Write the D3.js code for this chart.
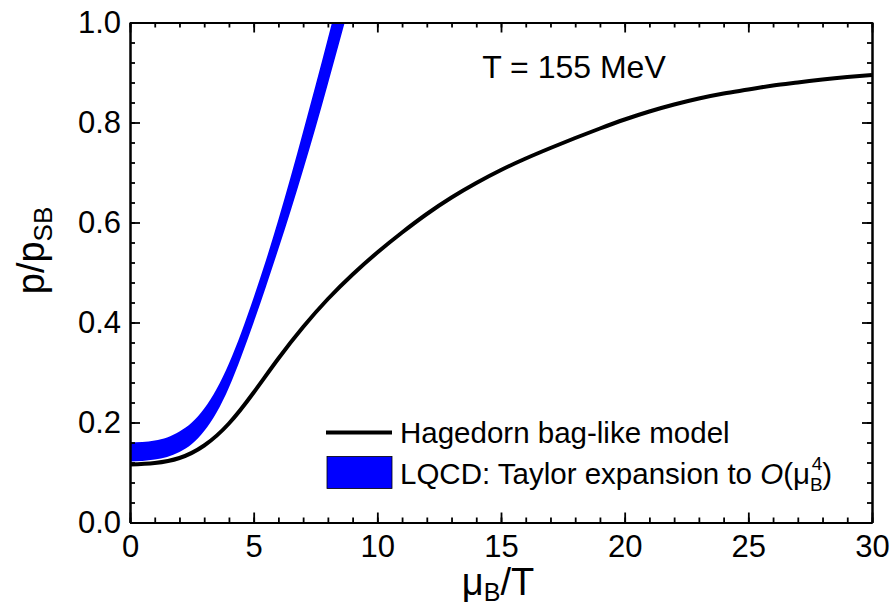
<!DOCTYPE html>
<html>
<head>
<meta charset="utf-8">
<script src="https://cdn.jsdelivr.net/npm/d3@7"></script>
<style>
  body { margin: 0; background: #fff; }
  svg text { font-family: "Liberation Sans", Arial, sans-serif; fill: #000; }
</style>
</head>
<body>
<svg id="chart" width="891" height="606"></svg>
<script>
// Hagedorn bag-like model curve (mu_B/T -> p/p_SB)
var modelMu = [0, 1, 2, 3, 4, 5, 6, 7, 8, 9, 10, 11, 12, 13, 14, 15, 16, 17, 18, 19, 20, 21, 22, 23, 24, 25, 26, 27, 28, 29, 30];
var modelP = [0.116, 0.119, 0.129, 0.154, 0.198, 0.260, 0.328, 0.391, 0.447, 0.496, 0.540, 0.580, 0.617, 0.650, 0.679, 0.705, 0.728, 0.749, 0.769, 0.788, 0.806, 0.822, 0.836, 0.848, 0.858, 0.866, 0.874, 0.880, 0.886, 0.891, 0.895];

// LQCD Taylor expansion band
var bandMu = [0, 0.5, 1, 1.5, 2, 2.5, 3, 3.5, 4, 4.5, 5, 5.5, 6, 6.5, 7, 7.5, 8, 8.5, 9];
var bandLow = [0.122, 0.123, 0.126, 0.131, 0.141, 0.157, 0.183, 0.220, 0.270, 0.332, 0.400, 0.472, 0.547, 0.624, 0.705, 0.789, 0.877, 0.967, 1.058];
var bandHigh = [0.160, 0.161, 0.164, 0.170, 0.182, 0.200, 0.228, 0.267, 0.318, 0.380, 0.450, 0.525, 0.606, 0.692, 0.782, 0.874, 0.968, 1.064, 1.160];

var xTicks = [0, 5, 10, 15, 20, 25, 30];
var yTicks = [0.0, 0.2, 0.4, 0.6, 0.8, 1.0];

var margin = {top: 22.5, right: 19, bottom: 83.5, left: 130},
    width = 891 - margin.left - margin.right,
    height = 606 - margin.top - margin.bottom;

var svg = d3.select("#chart")
  .append("g")
    .attr("transform", "translate(" + margin.left + "," + margin.top + ")");

var x = d3.scaleLinear().domain([0, 30]).range([0, width]);
var y = d3.scaleLinear().domain([0, 1]).range([height, 0]);

svg.append("clipPath").attr("id", "plotClip")
  .append("rect").attr("width", width).attr("height", height);

var plot = svg.append("g").attr("clip-path", "url(#plotClip)");

// band
var bandData = bandMu.map(function(m, i) { return {mu: m, lo: bandLow[i], hi: bandHigh[i]}; });
plot.append("path")
  .datum(bandData)
  .attr("fill", "#0000ff")
  .attr("d", d3.area()
    .x(function(d) { return x(d.mu); })
    .y0(function(d) { return y(d.lo); })
    .y1(function(d) { return y(d.hi); })
    .curve(d3.curveNatural));

// model line
var modelData = modelMu.map(function(m, i) { return {mu: m, p: modelP[i]}; });
plot.append("path")
  .datum(modelData)
  .attr("fill", "none")
  .attr("stroke", "#000")
  .attr("stroke-width", 4)
  .attr("d", d3.line()
    .x(function(d) { return x(d.mu); })
    .y(function(d) { return y(d.p); })
    .curve(d3.curveNatural));

//axes, ticks pointing inward
function styleAxis(g) {
  g.select(".domain").attr("stroke-width", 2);
  g.selectAll(".tick line").attr("stroke-width", 1.8);
  g.selectAll("text").style("font-family", "'Liberation Sans', Arial, sans-serif").style("font-size", "31px");
}

var xMinor = d3.range(0, 31, 1),
    yMinor = d3.range(0, 1.001, 0.04);

svg.append("g")
  .attr("transform", "translate(0," + height + ")")
  .call(d3.axisBottom(x).tickValues(xMinor).tickSize(-5).tickSizeOuter(0).tickFormat(""))
  .call(styleAxis);
svg.append("g")
  .attr("transform", "translate(0," + height + ")")
  .call(d3.axisBottom(x).tickValues(xTicks).tickSize(-10).tickSizeOuter(0).tickPadding(12).tickFormat(d3.format("d")))
  .call(styleAxis);

svg.append("g")
  .call(d3.axisTop(x).tickValues(xMinor).tickSize(-5).tickSizeOuter(0).tickFormat(""))
  .call(styleAxis);
svg.append("g")
  .call(d3.axisTop(x).tickValues(xTicks).tickSize(-10).tickSizeOuter(0).tickFormat(""))
  .call(styleAxis);

svg.append("g")
  .call(d3.axisLeft(y).tickValues(yMinor).tickSize(-5).tickSizeOuter(0).tickFormat(""))
  .call(styleAxis);
svg.append("g")
  .call(d3.axisLeft(y).tickValues(yTicks).tickSize(-10).tickSizeOuter(0).tickPadding(9).tickFormat(d3.format(".1f")))
  .call(styleAxis);

svg.append("g")
  .attr("transform", "translate(" + width + ",0)")
  .call(d3.axisRight(y).tickValues(yMinor).tickSize(-5).tickSizeOuter(0).tickFormat(""))
  .call(styleAxis);
svg.append("g")
  .attr("transform", "translate(" + width + ",0)")
  .call(d3.axisRight(y).tickValues(yTicks).tickSize(-10).tickSizeOuter(0).tickFormat(""))
  .call(styleAxis);

// axis titles
var xt = svg.append("text")
  .attr("x", width / 2 - 3)
  .attr("y", height + 72)
  .attr("text-anchor", "middle")
  .style("font-size", "38px");
xt.append("tspan").text("\u03bc");
xt.append("tspan").attr("dy", 6).style("font-size", "25px").text("B");
xt.append("tspan").attr("dy", -6).text("/T");

var yt = svg.append("text")
  .attr("transform", "translate(-86," + (height / 2 - 22) + ") rotate(-90)")
  .attr("text-anchor", "middle")
  .style("font-size", "38px");
yt.append("tspan").text("p/p");
yt.append("tspan").attr("dy", 8).style("font-size", "26px").text("SB");

// annotation
svg.append("text")
  .attr("x", 444)
  .attr("y", 55)
  .attr("text-anchor", "middle")
  .style("font-size", "32px")
  .text("T = 155 MeV");

// legend
var legend = svg.append("g").attr("transform", "translate(196,0)");
legend.append("line")
  .attr("x1", 0).attr("x2", 66)
  .attr("y1", 410).attr("y2", 410)
  .attr("stroke", "#000").attr("stroke-width", 4);
legend.append("text")
  .attr("x", 74).attr("y", 420.5)
  .style("font-size", "29.5px")
  .text("Hagedorn bag-like model");

legend.append("rect")
  .attr("x", 1).attr("y", 434)
  .attr("width", 65).attr("height", 32)
  .attr("fill", "#0000ff").attr("stroke", "#000").attr("stroke-width", 0.8);
var lt = legend.append("text")
  .attr("x", 74).attr("y", 461)
  .style("font-size", "29.5px");
lt.append("tspan").text("LQCD: Taylor expansion to ");
lt.append("tspan").style("font-style", "italic").text("O");
lt.append("tspan").text("(\u03bc");
lt.append("tspan").attr("dy", 7).style("font-size", "19px").text("B");
lt.append("tspan").attr("dx", -11).attr("dy", -21).style("font-size", "19px").text("4");
lt.append("tspan").attr("dy", 14).text(")");
</script>
</body>
</html>
